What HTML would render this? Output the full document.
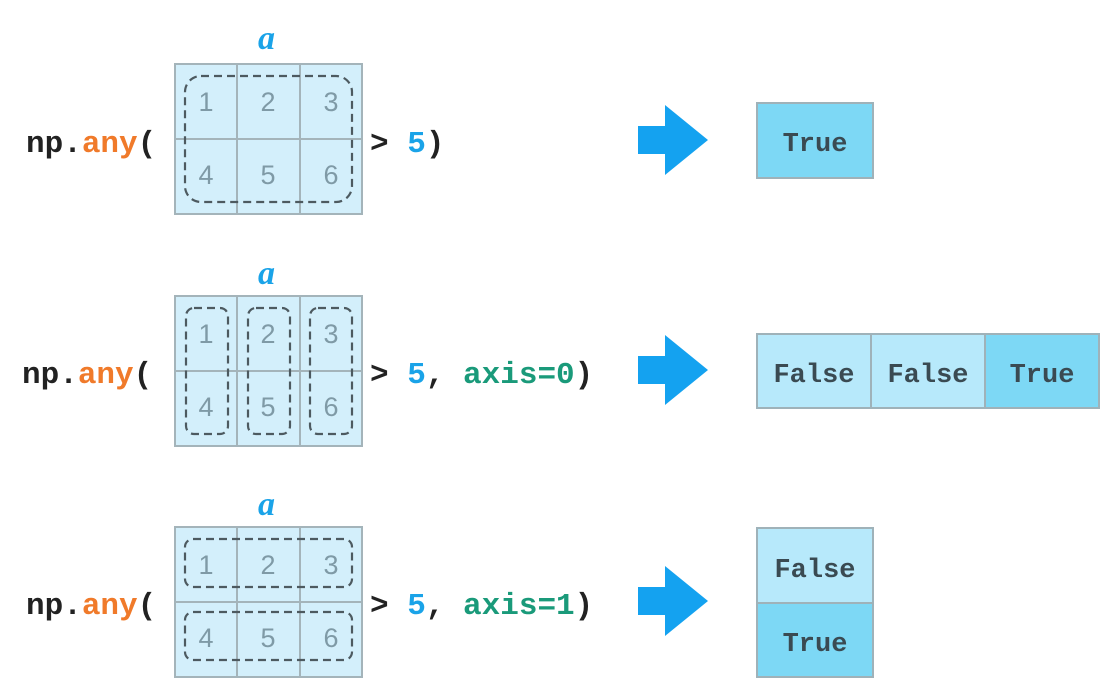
<!DOCTYPE html>
<html><head><meta charset="utf-8"><style>
html,body{margin:0;padding:0;background:#fff;}
svg{display:block;}
.code{font-family:"Liberation Mono","DejaVu Sans Mono",monospace;font-weight:bold;font-size:31px;}
.num{font-family:"Liberation Sans","DejaVu Sans",sans-serif;font-size:27px;fill:#7f9aa6;}
.res{font-family:"Liberation Mono","DejaVu Sans Mono",monospace;font-weight:bold;font-size:27px;fill:#3a4a52;}
.a{font-family:"Liberation Serif",serif;font-style:italic;font-weight:bold;font-size:34px;fill:#1aa3e8;}
</style></head><body>
<svg width="1119" height="697" viewBox="0 0 1119 697" xmlns="http://www.w3.org/2000/svg">
<defs>
<g id="grid">
  <rect x="175" y="0" width="187" height="150" fill="#d3effb" stroke="#a4b4ba" stroke-width="2"/>
  <line x1="237" y1="0" x2="237" y2="150" stroke="#a4b4ba" stroke-width="2"/>
  <line x1="300" y1="0" x2="300" y2="150" stroke="#a4b4ba" stroke-width="2"/>
  <line x1="175" y1="75" x2="362" y2="75" stroke="#a4b4ba" stroke-width="2"/>
  <g class="num" text-anchor="middle">
    <text x="206" y="47">1</text><text x="268" y="47">2</text><text x="331" y="47">3</text>
    <text x="206" y="120">4</text><text x="268" y="120">5</text><text x="331" y="120">6</text>
  </g>
</g>
<path id="arr" d="M638,-14 L665,-14 L665,-35 L708,0 L665,35 L665,14 L638,14 Z" fill="#14a2f0"/>
</defs>

<!-- Row 1 -->
<text class="a" x="258" y="49">a</text>
<g transform="translate(0,64)"><use href="#grid"/>
<rect x="185" y="12" width="167" height="126" rx="16" fill="none" stroke="#4d5a60" stroke-width="2.2" stroke-dasharray="8,5"/></g>
<text class="code" x="26" y="152"><tspan fill="#222">np.</tspan><tspan fill="#f07a2a">any</tspan><tspan fill="#222">(</tspan></text>
<text class="code" x="370" y="152"><tspan fill="#222">&gt; </tspan><tspan fill="#1aa3e8">5</tspan><tspan fill="#222">)</tspan></text>
<use href="#arr" transform="translate(0,140)"/>
<rect x="757" y="103" width="116" height="75" fill="#7dd8f5" stroke="#9fb2b9" stroke-width="2"/>
<text class="res" x="815" y="151" text-anchor="middle">True</text>

<!-- Row 2 -->
<text class="a" x="258" y="284">a</text>
<g transform="translate(0,296)"><use href="#grid"/>
<g fill="none" stroke="#4d5a60" stroke-width="2.2" stroke-dasharray="8,5">
<rect x="186" y="12" width="42" height="126" rx="8"/>
<rect x="248" y="12" width="42" height="126" rx="8"/>
<rect x="310" y="12" width="42" height="126" rx="8"/></g></g>
<text class="code" x="22" y="383"><tspan fill="#222">np.</tspan><tspan fill="#f07a2a">any</tspan><tspan fill="#222">(</tspan></text>
<text class="code" x="370" y="383"><tspan fill="#222">&gt; </tspan><tspan fill="#1aa3e8">5</tspan><tspan fill="#222">, </tspan><tspan fill="#1a9a7a">axis=0</tspan><tspan fill="#222">)</tspan></text>
<use href="#arr" transform="translate(0,370)"/>
<rect x="757" y="334" width="114" height="74" fill="#b7e9fb" stroke="#9fb2b9" stroke-width="2"/>
<rect x="871" y="334" width="114" height="74" fill="#b7e9fb" stroke="#9fb2b9" stroke-width="2"/>
<rect x="985" y="334" width="114" height="74" fill="#7dd8f5" stroke="#9fb2b9" stroke-width="2"/>
<g class="res" text-anchor="middle"><text x="814" y="382">False</text><text x="928" y="382">False</text><text x="1042" y="382">True</text></g>

<!-- Row 3 -->
<text class="a" x="258" y="515">a</text>
<g transform="translate(0,527)"><use href="#grid"/>
<g fill="none" stroke="#4d5a60" stroke-width="2.2" stroke-dasharray="8,5">
<rect x="185" y="12" width="167" height="48" rx="8"/>
<rect x="185" y="85" width="167" height="48" rx="8"/></g></g>
<text class="code" x="26" y="614"><tspan fill="#222">np.</tspan><tspan fill="#f07a2a">any</tspan><tspan fill="#222">(</tspan></text>
<text class="code" x="370" y="614"><tspan fill="#222">&gt; </tspan><tspan fill="#1aa3e8">5</tspan><tspan fill="#222">, </tspan><tspan fill="#1a9a7a">axis=1</tspan><tspan fill="#222">)</tspan></text>
<use href="#arr" transform="translate(0,601)"/>
<rect x="757" y="528" width="116" height="75" fill="#b7e9fb" stroke="#9fb2b9" stroke-width="2"/>
<rect x="757" y="603" width="116" height="74" fill="#7dd8f5" stroke="#9fb2b9" stroke-width="2"/>
<g class="res" text-anchor="middle"><text x="815" y="577">False</text><text x="815" y="651">True</text></g>
</svg>
</body></html>
